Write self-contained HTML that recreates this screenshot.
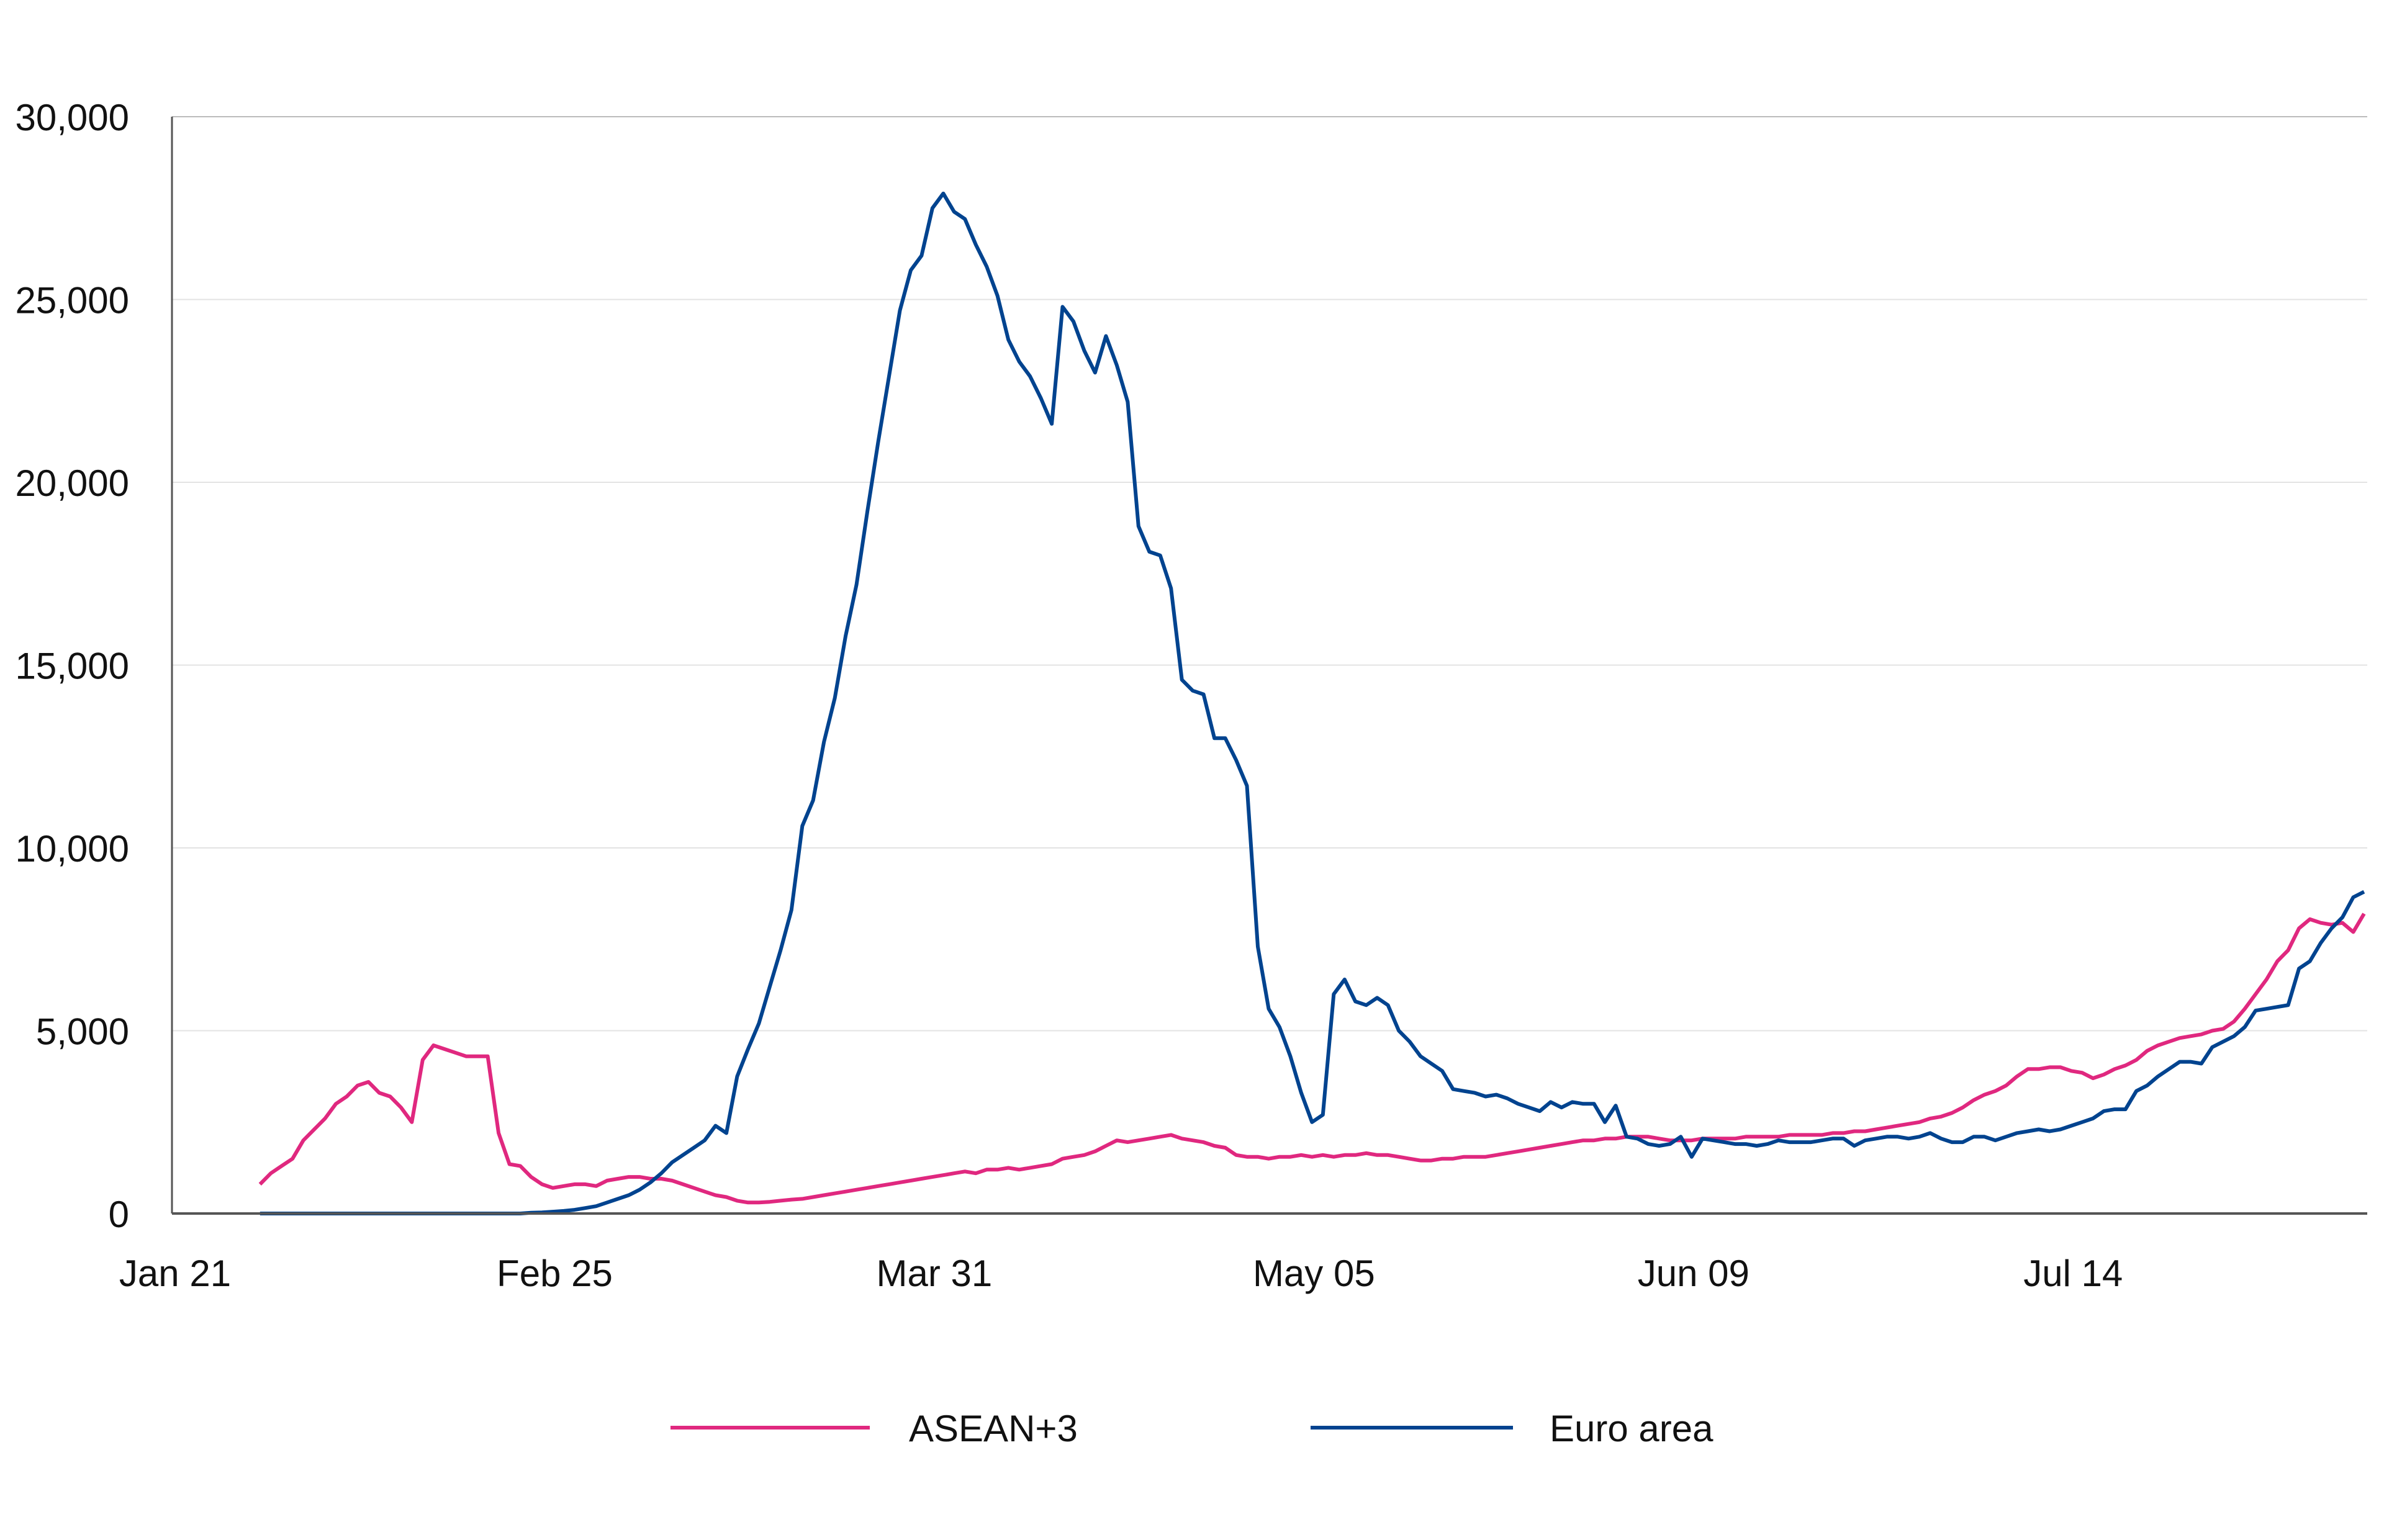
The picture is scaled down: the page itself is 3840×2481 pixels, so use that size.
<!DOCTYPE html>
<html><head><meta charset="utf-8"><style>
html,body{margin:0;padding:0;background:#fff;}
svg{display:block;font-family:"Liberation Sans",sans-serif;}
</style></head><body>
<svg id="chart" width="3840" height="2481" viewBox="0 0 3840 2481" xmlns="http://www.w3.org/2000/svg">
<g id="grid"></g>
<g id="yticks"></g>
<g id="xticks"></g>
<g id="series"></g>
<line x1="277" y1="188" x2="277" y2="1955" stroke="#555" stroke-width="3"/>
<line x1="277" y1="1955" x2="3813" y2="1955" stroke="#555" stroke-width="4"/>
<g>
<g>
<line x1="1080" y1="2300" x2="1401" y2="2300" stroke="#E0287F" stroke-width="6"/>
<text x="1464" y="2322" font-size="60" fill="#111">ASEAN+3</text></g>
<g>
<line x1="2111" y1="2300" x2="2437" y2="2300" stroke="#00438F" stroke-width="6"/>
<text x="2496" y="2322" font-size="60" fill="#111">Euro area</text></g>
</g>
</svg>
<script>
const startDay = 8;
const xTickLabels = ["Jan 21","Feb 25","Mar 31","May 05","Jun 09","Jul 14"];
const xTickDays = [0,35,70,105,140,175];
const yTicks = [0,5000,10000,15000,20000,25000,30000];
const aseanValues = [800,1100,1300,1500,2000,2300,2600,3000,3200,3500,
3600,3300,3200,2900,2500,4200,4600,4500,4400,4300,
4300,4300,2200,1350,1300,1000,800,700,750,800,
800,750,900,950,1000,1000,950,950,900,800,
700,600,500,450,350,300,300,320,350,380,
400,450,500,550,600,650,700,750,800,850,
900,950,1000,1050,1100,1150,1100,1200,1200,1250,1200,1250,
1300,1350,1500,1550,1600,1700,1850,2000,1950,2000,
2050,2100,2150,2050,2000,1950,1850,1800,1600,1550,
1550,1500,1550,1550,1600,1550,1600,1550,1600,1600,
1650,1600,1600,1550,1500,1450,1450,1500,
1500,1550,1550,1550,1600,1650,1700,1750,1800,1850,
1900,1950,2000,2000,2050,2050,2100,2100,2100,2050,
2000,2000,2000,2050,2050,2050,2050,2100,2100,2100,
2100,2150,2150,2150,2150,2200,2200,2250,2250,2300,
2350,2400,2450,2500,2600,2650,2750,2900,3100,3250,
3350,3500,3750,3950,3950,4000,4000,3900,3850,3700,
3800,3950,4050,4200,4450,4600,4700,4800,4850,
4900,5000,5050,5250,5600,6000,6400,6900,7200,7800,
8050,7950,7900,7950,7700,8200];
const euroValues = [0,0,0,0,0,0,0,0,0,0,
0,0,0,0,0,0,0,0,0,0,
0,0,0,0,0,20,30,50,70,100,
150,200,300,400,500,650,850,1100,1400,1600,1800,
2000,2400,2200,3750,4500,5200,6200,7200,8300,10600,
11300,12900,14100,15800,17200,19200,21100,22900,24700,25800,
26200,27500,27900,27400,27200,26500,25900,25100,23900,23300,
22900,22300,21600,24800,24400,23600,23000,24000,23200,22200,
18800,18100,18000,17100,14600,14300,14200,13000,13000,12400,
11700,7300,5600,5100,4300,3300,2500,2700,6000,6400,
5800,5700,5900,5700,5000,4700,4300,4100,3900,3400,
3350,3300,3200,3250,3150,3000,2900,2800,3050,
2900,3050,3000,3000,2500,2950,2100,2050,1900,1850,
1900,2100,1550,2050,2000,1950,1900,1900,1850,1900,
2000,1950,1950,1950,2000,2050,2050,1850,2000,2050,
2100,2100,2050,2100,2200,2050,1950,1950,2100,2100,
2000,2100,2200,2250,2300,2250,2300,2400,2500,2600,
2800,2850,2850,3350,3500,3750,3950,4150,4150,4100,
4550,4700,4850,5100,5550,5600,5650,5700,6700,6900,
7400,7800,8100,8650,8800];

const NS="http://www.w3.org/2000/svg";
function xScale(d){return 279 + d*17.47;}
function yScale(v){return 1955 - v*(1955-188)/30000;}
const grid=document.getElementById('grid'), yt=document.getElementById('yticks'), xt=document.getElementById('xticks'), ser=document.getElementById('series');
yTicks.forEach(v=>{
  if(v>0){const l=document.createElementNS(NS,'line');
  
  
  l.setAttribute('x1',277);l.setAttribute('x2',3813);l.setAttribute('y1',yScale(v));l.setAttribute('y2',yScale(v));
  l.setAttribute('stroke',v===30000?'#bbb':'#e3e3e3');l.setAttribute('stroke-width',2);grid.appendChild(l);}
  const t=document.createElementNS(NS,'text');
  
  
  t.setAttribute('x',208);t.setAttribute('y',yScale(v)+22);t.setAttribute('text-anchor','end');t.setAttribute('font-size','60');t.setAttribute('fill','#111');
  t.textContent=v.toLocaleString('en-US');yt.appendChild(t);
});
xTickLabels.forEach((s,i)=>{
  const t=document.createElementNS(NS,'text');
  
  
  t.setAttribute('x',xScale(xTickDays[i])+3);t.setAttribute('y',2072);t.setAttribute('text-anchor','middle');t.setAttribute('font-size','60');t.setAttribute('fill','#111');
  t.textContent=s;xt.appendChild(t);
});
function draw(vals,color,name){
  const p=document.createElementNS(NS,'path');
  
  
  p.setAttribute('d',vals.map((v,i)=>(i?'L':'M')+xScale(startDay+i).toFixed(1)+','+yScale(v).toFixed(1)).join(''));
  p.setAttribute('fill','none');p.setAttribute('stroke',color);p.setAttribute('stroke-width',6);p.setAttribute('stroke-linejoin','round');
  ser.appendChild(p);
}
draw(aseanValues,'#E0287F','asean-line');
draw(euroValues,'#00438F','euro-area-line');
</script>
</body></html>
